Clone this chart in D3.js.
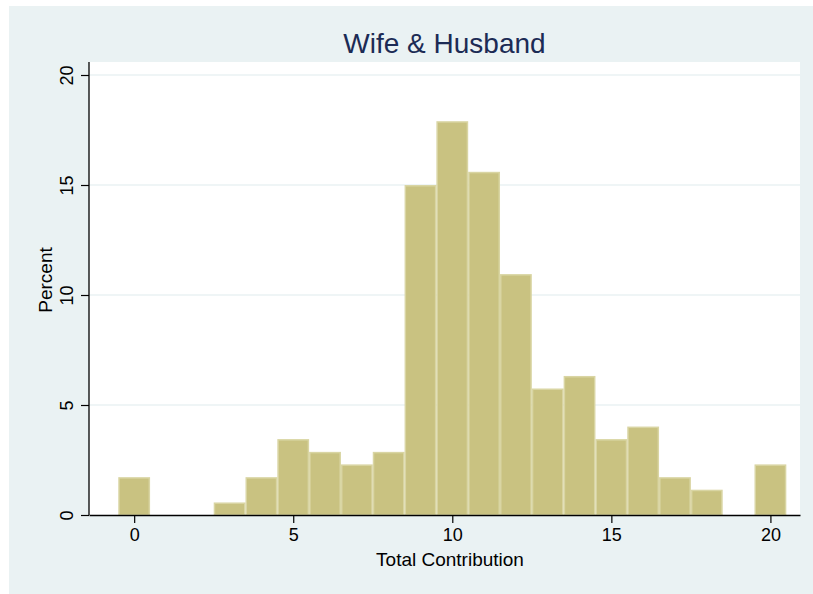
<!DOCTYPE html>
<html>
<head>
<meta charset="utf-8">
<script src="https://cdn.jsdelivr.net/npm/d3@7"></script>
<style>
  body { margin: 0; background: #ffffff; }
  text { font-family: "Liberation Sans", Arial, sans-serif; }
</style>
</head>
<body>
<div id="chart"></div>
<script>
// histogram bins (centre of each unit-width bin) and percent per bin
const binCenters = [0, 1, 2, 3, 4, 5, 6, 7, 8, 9, 10, 11, 12, 13, 14, 15, 16, 17, 18, 19, 20];
const percents = [1.72, 0, 0, 0.57, 1.72, 3.45, 2.87, 2.30, 2.87, 15.0, 17.9, 15.6, 10.95, 5.75, 6.32, 3.45, 4.02, 1.72, 1.15, 0, 2.30];
const xTicks = [0, 5, 10, 15, 20];
const yTicks = [0, 5, 10, 15, 20];
const chartTitle = "Wife & Husband";
const xTitle = "Total Contribution";
const yTitle = "Percent";

const W = 813, H = 594;
const plot = { left: 89, right: 800, top: 62, bottom: 515 };

const svg = d3.select("#chart")
  .append("svg")
    .attr("width", W)
    .attr("height", H);

// outer panel
svg.append("rect")
  .attr("x", 9).attr("y", 6)
  .attr("width", W - 9).attr("height", H - 6)
  .attr("fill", "#eaf2f3");

// plot region
svg.append("rect")
  .attr("x", plot.left).attr("y", plot.top)
  .attr("width", plot.right - plot.left).attr("height", plot.bottom - plot.top)
  .attr("fill", "#ffffff");

const x = d3.scaleLinear()
  .domain([-1.42, 20.93])
  .range([plot.left, plot.right]);

const y = d3.scaleLinear()
  .domain([0, 20])
  .range([plot.bottom, 75]);

// gridlines
svg.append("g")
  .selectAll("line")
  .data(yTicks.filter(d => d > 0))
  .join("line")
    .attr("x1", plot.left).attr("x2", plot.right)
    .attr("y1", d => y(d)).attr("y2", d => y(d))
    .attr("stroke", "#eaf2f3")
    .attr("stroke-width", 1.6);

// bars
const bins = binCenters.map((c, i) => ({ c: c, v: percents[i] })).filter(d => d.v > 0);
svg.append("g")
  .selectAll("rect")
  .data(bins)
  .join("rect")
    .attr("x", d => x(d.c - 0.5) + 0.75)
    .attr("y", d => y(d.v) + 0.75)
    .attr("width", d => x(d.c + 0.5) - x(d.c - 0.5) - 1.5)
    .attr("height", d => y(0) - y(d.v) - 0.75)
    .attr("fill", "#c9c281")
    .attr("stroke", "#d9d5a3")
    .attr("stroke-width", 1.5);

// x axis
const xAxis = svg.append("g")
  .attr("transform", `translate(0,${plot.bottom})`)
  .call(d3.axisBottom(x).tickValues(xTicks).tickSize(8).tickPadding(5).tickSizeOuter(0));
xAxis.select(".domain").attr("stroke", "#000").attr("stroke-width", 1.3);
xAxis.selectAll(".tick line").attr("stroke", "#000").attr("stroke-width", 1.2);
xAxis.selectAll(".tick text")
  .attr("fill", "#000")
  .style("font-size", "18px")
  .style("font-family", "Liberation Sans, Arial, sans-serif");

// y axis
const yAxis = svg.append("g")
  .attr("transform", `translate(${plot.left},0)`)
  .call(d3.axisLeft(y).tickValues(yTicks).tickSize(8).tickSizeOuter(0));
yAxis.select(".domain")
  .attr("d", `M0,${plot.top}V${plot.bottom}`)
  .attr("stroke", "#000").attr("stroke-width", 1.3);
yAxis.selectAll(".tick line").attr("stroke", "#000").attr("stroke-width", 1.2);
yAxis.selectAll(".tick text")
  .attr("fill", "#000")
  .attr("x", 0).attr("dy", 0)
  .attr("transform", "translate(-16,0) rotate(-90)")
  .attr("text-anchor", "middle")
  .style("font-size", "18px")
  .style("font-family", "Liberation Sans, Arial, sans-serif");

// titles
svg.append("text")
  .attr("x", (plot.left + plot.right) / 2)
  .attr("y", 53)
  .attr("text-anchor", "middle")
  .attr("fill", "#1c2b55")
  .style("font-size", "28px")
  .text(chartTitle);

svg.append("text")
  .attr("x", 450)
  .attr("y", 566)
  .attr("text-anchor", "middle")
  .attr("fill", "#000")
  .style("font-size", "19px")
  .text(xTitle);

svg.append("text")
  .attr("transform", `translate(52,280) rotate(-90)`)
  .attr("text-anchor", "middle")
  .attr("fill", "#000")
  .style("font-size", "19px")
  .text(yTitle);
</script>
</body>
</html>
